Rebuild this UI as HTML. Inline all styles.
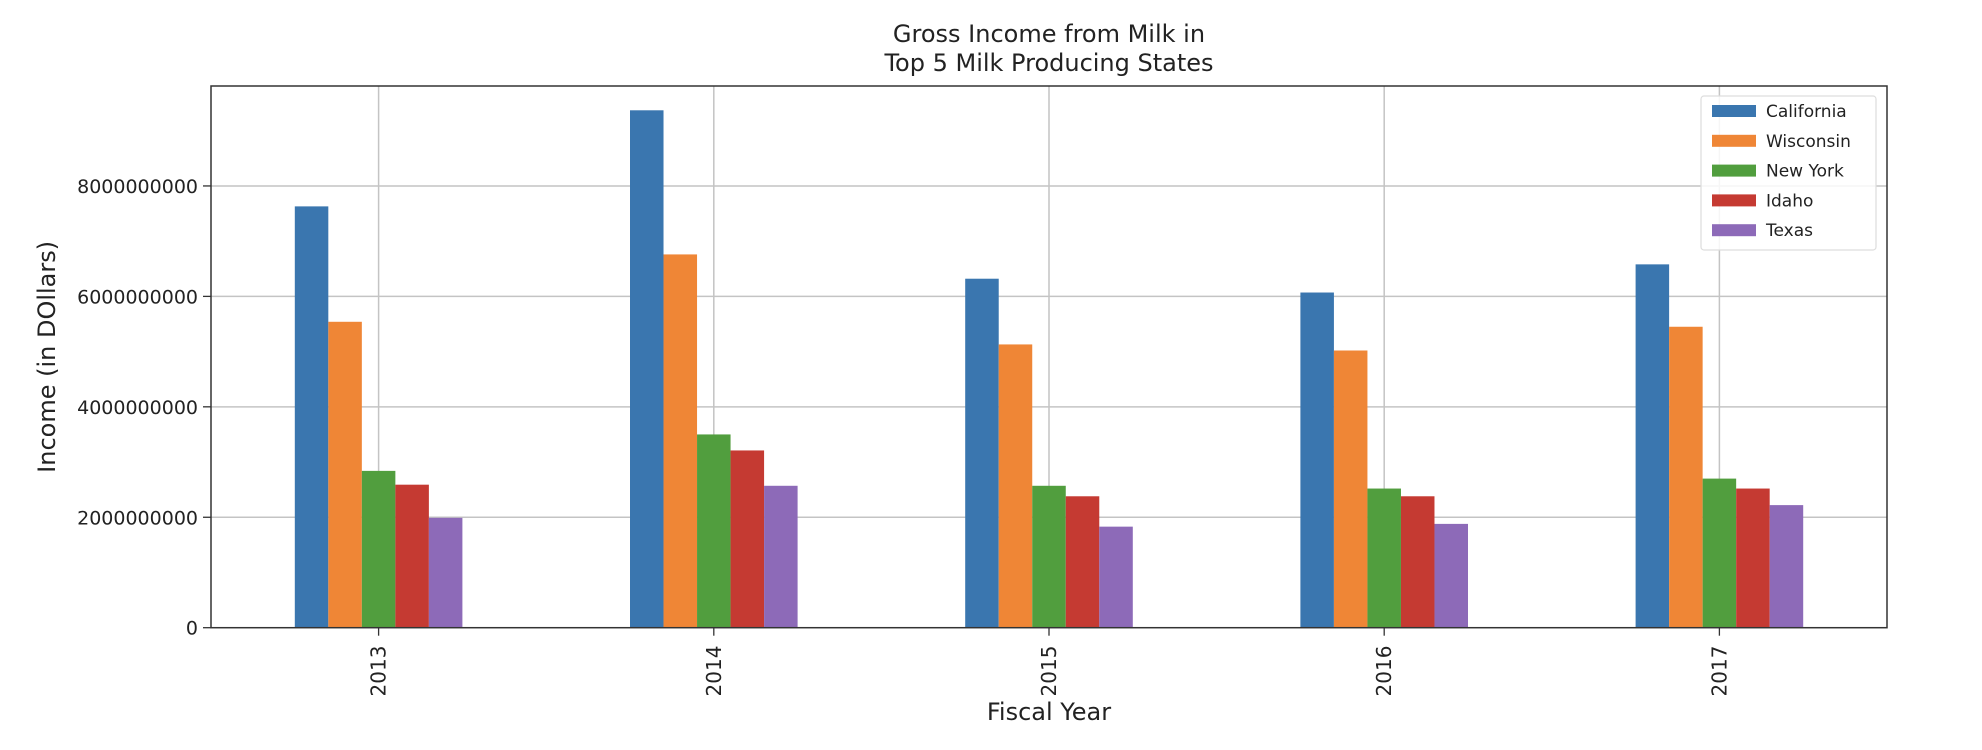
<!DOCTYPE html>
<html><head><meta charset="utf-8"><style>
body{margin:0;background:#fff;}
svg{display:block;font-family:"DejaVu Sans","Liberation Sans",sans-serif;}
</style></head><body>
<svg id="chart" width="1982" height="750"></svg>
<script>
const categories = ["2013","2014","2015","2016","2017"];
const seriesNames = ["California","Wisconsin","New York","Idaho","Texas"];
const california = [7.63e9, 9.37e9, 6.32e9, 6.07e9, 6.58e9];
const wisconsin = [5.54e9, 6.76e9, 5.13e9, 5.02e9, 5.45e9];
const newYork = [2.84e9, 3.50e9, 2.57e9, 2.52e9, 2.70e9];
const idaho = [2.59e9, 3.21e9, 2.38e9, 2.38e9, 2.52e9];
const texas = [1.99e9, 2.57e9, 1.83e9, 1.88e9, 2.22e9];
const yTicks = [0, 2000000000, 4000000000, 6000000000, 8000000000];
const yTickLabels = ["0","2000000000","4000000000","6000000000","8000000000"];
const colors = ["#3a76af","#ef8636","#519e3e","#c53a32","#8d6ab8"];

const NS="http://www.w3.org/2000/svg";
const svg=document.getElementById('chart');
const L=211,R=1887,T=86,B=627.7,YMAX=9.81e9;
const step=(R-L)/categories.length;
const xPos=i=>L+step*(i+0.5);
const y=v=>B-(v/YMAX)*(B-T);
function mk(tag,attrs,txt){const e=document.createElementNS(NS,tag);for(const k in attrs)e.setAttribute(k,attrs[k]);if(txt!==undefined)e.textContent=txt;svg.appendChild(e);return e;}

yTicks.forEach((v,i)=>{
  if(v>0){const g=mk('line',{x1:L,x2:R,y1:y(v),y2:y(v),stroke:'#c4c4c4','stroke-width':1.5});
  
  }
  const t=mk('line',{x1:L-8,x2:L,y1:y(v),y2:y(v),stroke:'#333','stroke-width':1.3});
  
  
  const lb=mk('text',{x:198,y:y(v)+7,'text-anchor':'end','font-size':19,fill:'#222'},yTickLabels[i]);
  
  
});
categories.forEach((c,i)=>{
  const g=mk('line',{x1:xPos(i),x2:xPos(i),y1:T,y2:B,stroke:'#c4c4c4','stroke-width':1.5});
  
  
});
const all=[california,wisconsin,newYork,idaho,texas];
const bw=step*0.1;
all.forEach((arr,s)=>{
  arr.forEach((v,i)=>{
    const x=xPos(i)-2.5*bw+s*bw;
    const r=mk('rect',{x:x,y:y(v),width:bw,height:B-y(v),fill:colors[s]});
    
    
  });
});
categories.forEach((c,i)=>{
  const t=mk('line',{x1:xPos(i),x2:xPos(i),y1:B,y2:B+8,stroke:'#333','stroke-width':1.3});
  
  
  const lb=mk('text',{x:0,y:0,'text-anchor':'middle','font-size':20,fill:'#222',transform:`translate(${xPos(i)+7},671) rotate(-90)`},c);
  
  
});
const fr=mk('rect',{x:L,y:T,width:R-L,height:B-T,fill:'none',stroke:'#333','stroke-width':1.5});


const lg=mk('rect',{x:1701,y:96,width:175,height:154,rx:3,fill:'#fff','fill-opacity':0.85,stroke:'#ddd','stroke-width':1.2});


seriesNames.forEach((n,s)=>{
  const cy=111+s*29.8;
  const p=mk('rect',{x:1712,y:cy-6,width:44,height:12,fill:colors[s]});
  
  
  const t=mk('text',{x:1766,y:cy+6,'font-size':17,fill:'#222'},n);
  
  
});
const t1=mk('text',{x:(L+R)/2,y:42,'text-anchor':'middle','font-size':24,fill:'#222'},'Gross Income from Milk in');


const t2=mk('text',{x:(L+R)/2,y:71,'text-anchor':'middle','font-size':24,fill:'#222'},'Top 5 Milk Producing States');


const xl=mk('text',{x:(L+R)/2,y:720,'text-anchor':'middle','font-size':24,fill:'#222'},'Fiscal Year');


const yl=mk('text',{x:0,y:0,'text-anchor':'middle','font-size':24,fill:'#222',transform:`translate(55,${(T+B)/2}) rotate(-90)`},'Income (in DOllars)');


</script>
</body></html>
